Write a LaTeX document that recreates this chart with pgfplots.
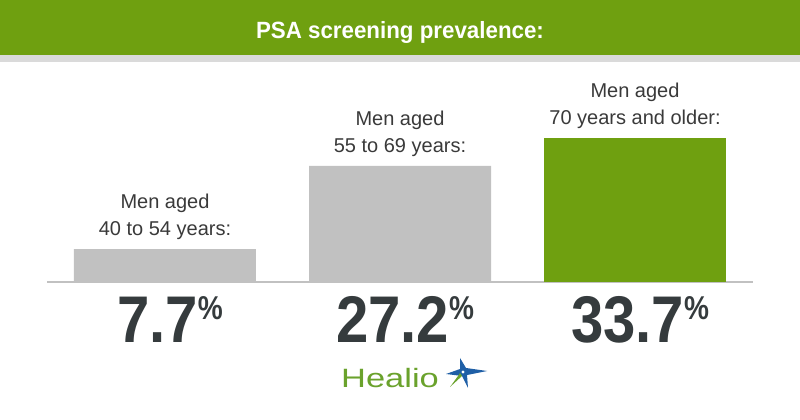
\documentclass[border=0pt]{standalone}
\usepackage{fontspec}
\setmainfont{Liberation Sans}
\usepackage{graphicx}
\usepackage{pgfplots}
\pgfplotsset{compat=1.18}
\definecolor{hgreen}{HTML}{6FA010}
\definecolor{lgreen}{HTML}{6AA22C}
\definecolor{bargray}{HTML}{C1C1C1}
\definecolor{stripe}{HTML}{DADADA}
\definecolor{txt}{HTML}{3A3A3A}
\definecolor{valtxt}{HTML}{353B3D}
\definecolor{hblue}{HTML}{1F5FA6}
\newcommand{\val}[1]{\scalebox{0.88}[1]{\fontsize{66}{66}\selectfont\bfseries #1}\raisebox{23pt}{\scalebox{0.85}[1]{\fontsize{33}{33}\selectfont\bfseries\%}}}
\begin{document}
\begin{tikzpicture}[x=1pt,y=1pt]
\useasboundingbox (0,0) rectangle (800,420);
\fill[white] (0,0) rectangle (800,420);
\fill[hgreen] (0,365) rectangle (800,420);
\fill[stripe] (0,358) rectangle (800,365);
\node[anchor=base, text=white, inner sep=0] at (400,381)
  {\scalebox{0.95}[1]{\fontsize{23.5}{23.5}\selectfont\bfseries PSA screening prevalence:}};
\begin{axis}[
  at={(47pt,138pt)}, anchor=south west,
  scale only axis, width=706pt, height=170.9pt,
  xmin=-0.502, xmax=2.502, ymin=0, ymax=40,
  axis y line=none, axis x line*=bottom,
  x axis line style={draw=bargray, line width=1.8pt},
  xtick=\empty, ytick=\empty,
  ybar, bar width=182pt, bar shift=0pt,
  clip=false,
]
\addplot[draw=none, fill=bargray] coordinates {(0,7.7) (1,27.2)};
\addplot[draw=none, fill=hgreen] coordinates {(2,33.7)};
\node[anchor=south, align=center, inner sep=0, text=txt, font=\fontsize{20}{27}\selectfont, yshift=9pt] at (axis cs:0,7.7) {Men aged\\40 to 54 years:};
\node[anchor=south, align=center, inner sep=0, text=txt, font=\fontsize{20}{27}\selectfont, yshift=9pt] at (axis cs:1,27.2) {Men aged\\55 to 69 years:};
\node[anchor=south, align=center, inner sep=0, text=txt, font=\fontsize{20}{27}\selectfont, yshift=9pt] at (axis cs:2,33.7) {Men aged\\70 years and older:};
\node[anchor=base, inner sep=0, text=valtxt, xshift=5pt, yshift=-61pt] at (axis cs:0,0) {\val{7.7}};
\node[anchor=base, inner sep=0, text=valtxt, xshift=5pt, yshift=-61pt] at (axis cs:1,0) {\val{27.2}};
\node[anchor=base, inner sep=0, text=valtxt, xshift=5pt, yshift=-61pt] at (axis cs:2,0) {\val{33.7}};
\end{axis}
% Healio logo
\node[anchor=base west, inner sep=0, text=lgreen] at (341,32) {\scalebox{1.3}[1]{\fontsize{26.5}{26.5}\selectfont Healio}};
\fill[hblue] (460,62) -- (466,52) -- (487,49) -- (467,45) -- (468,32) -- (462,44) -- (446,46) -- (460,51) -- cycle;
\fill[lgreen] (462,44) -- (450,33) -- (458,44) -- (460,47) -- cycle;
\fill[white] (463,48) circle (1.6);
\end{tikzpicture}
\end{document}
